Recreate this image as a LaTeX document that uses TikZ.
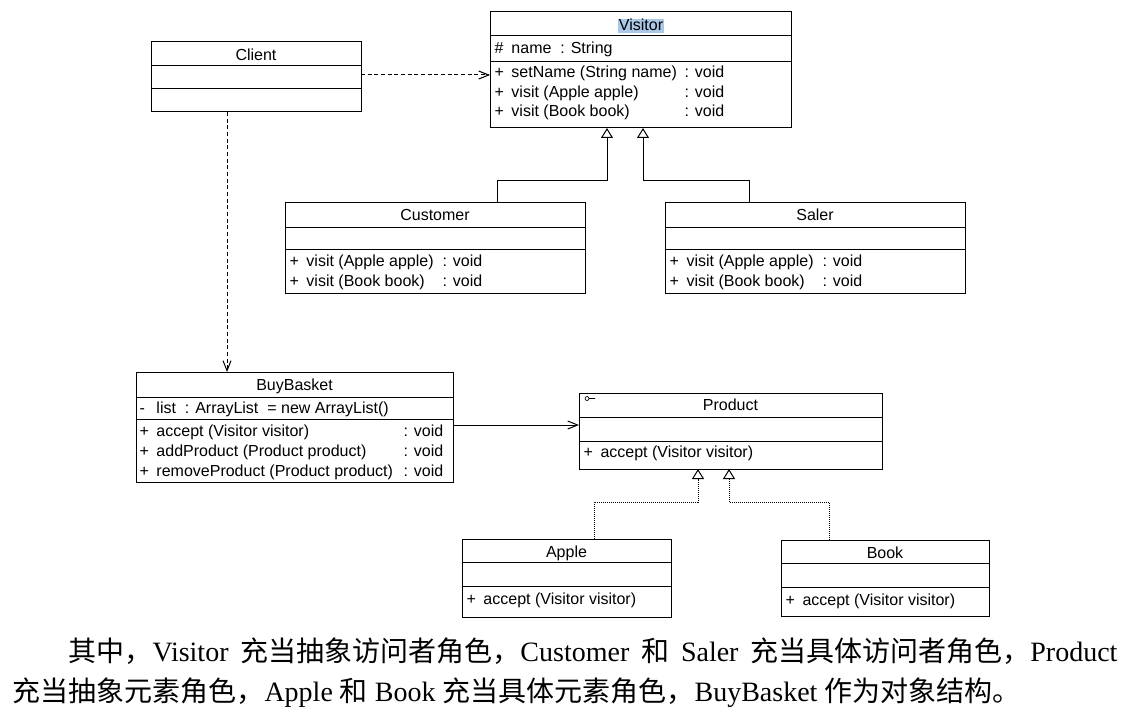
\documentclass[tikz,border=0pt]{standalone}
\usepackage{fontspec}
\setmainfont{Liberation Sans}
\newfontfamily\capfont{Liberation Serif}
\newfontfamily\cjk{Noto Sans CJK SC}
\usetikzlibrary{arrows.meta}

\definecolor{selblue}{RGB}{170,200,232}
\newcommand{\px}{0.75pt}
\newcommand{\vis}[1]{\makebox[12.75pt][l]{#1}}

\begin{document}
\begin{tikzpicture}[x=0.75pt,y=-0.75pt,line width=0.75pt,
  font=\fontsize{12}{14}\selectfont,
  cls/.style={draw,inner sep=0pt,outer sep=0pt},
  title/.style={inner sep=0pt,text height=8.6pt,text depth=2.5pt,yshift=-1.5pt},
  member/.style={inner sep=0pt,anchor=west,text height=8.6pt,text depth=2.5pt,yshift=-1.5pt},
  depend/.style={dash pattern=on 3pt off 2pt,-{Straight Barb[length=7.5pt,width=6pt]}},
  assoc/.style={-{Straight Barb[length=7.5pt,width=6pt]}},
  inherit/.style={-{Triangle[open,length=7.5pt,width=9pt,fill=white]}},
  realize/.style={dash pattern=on 0.75pt off 0.75pt,-{Triangle[open,length=7.5pt,width=9pt,fill=white]}}]
\useasboundingbox (0,0) rectangle (1127,713);

% class boxes
\node[cls,minimum width=210*\px,minimum height=70*\px] (client) at (256,77) {};
\node[cls,minimum width=301*\px,minimum height=116*\px] (visitor) at (640.5,70) {};
\node[cls,minimum width=300*\px,minimum height=91*\px] (customer) at (435,247.5) {};
\node[cls,minimum width=300*\px,minimum height=91*\px] (saler) at (815,247.5) {};
\node[cls,minimum width=317*\px,minimum height=110*\px] (basket) at (294.5,427) {};
\node[cls,minimum width=303*\px,minimum height=76*\px] (product) at (730.5,431) {};
\node[cls,minimum width=209*\px,minimum height=78*\px] (apple) at (566.5,578) {};
\node[cls,minimum width=208*\px,minimum height=76*\px] (book) at (885,578) {};

% compartments
\foreach \n/\a/\b in {client/66/89,visitor/36/62,customer/227/249,saler/227/249,
                     basket/397/419,product/417/441,apple/562/586,book/563/587}{
  \draw (\n.west |- 0,\a) -- (\n.east |- 0,\a);
  \draw (\n.west |- 0,\b) -- (\n.east |- 0,\b);
}

% Client
\node[title] (clientT) at (256,54) {Client};

% Visitor
\node[title,fill=selblue,inner xsep=1pt] (visitorT) at (641,24) {Visitor};
\node[member] (vName) at (494,47) {\vis{\#}name\ \ : String};
\node[member] (vSet) at (494,71) {\vis{+}setName (String name)};
\node[member] (vApple) at (494,91) {\vis{+}visit (Apple apple)};
\node[member] (vBook) at (494,110) {\vis{+}visit (Book book)};
\foreach \y in {71,91,110} \node[member] (vVoid\y) at (684,\y) {: void};

% Customer / Saler
\node[title] (customerT) at (435,214) {Customer};
\node[title] (salerT) at (815,214) {Saler};
\foreach \n/\x in {c/289,s/669}{
  \node[member] (\n Apple) at (\x,260) {\vis{+}visit (Apple apple)};
  \node[member] (\n Book) at (\x,280) {\vis{+}visit (Book book)};
  \node[member] (\n Void1) at (\x+153,260) {: void};
  \node[member] (\n Void2) at (\x+153,280) {: void};
}

% BuyBasket
\node[title] (basketT) at (294.5,384) {BuyBasket};
\node[member] (bList) at (139,407) {\vis{-}list\ \ : ArrayList\ \ = new ArrayList()};
\node[member] (bAccept) at (139,430) {\vis{+}accept (Visitor visitor)};
\node[member] (bAdd) at (139,450) {\vis{+}addProduct (Product product)};
\node[member] (bRemove) at (139,470) {\vis{+}removeProduct (Product product)};
\foreach \y in {430,450,470} \node[member] (bVoid\y) at (403,\y) {: void};

% Product
\node[title] (productT) at (730.5,404) {Product};
\draw[line width=0.5pt] (587,398.5) circle[radius=1.5pt] (589,398.5) -- (595,398.5);
\node[member] (pAccept) at (583,451) {\vis{+}accept (Visitor visitor)};

% Apple / Book
\node[title] (appleT) at (566.5,551) {Apple};
\node[member] (aAccept) at (466,598) {\vis{+}accept (Visitor visitor)};
\node[title] (bookT) at (885,552) {Book};
\node[member] (kAccept) at (785,599) {\vis{+}accept (Visitor visitor)};

% connectors
\draw[depend] (client.east |- 0,75) -- (visitor.west |- 0,75);
\draw[depend] (client.south -| 227,0) -- (basket.north -| 227,0);
\draw[assoc] (basket.east |- 0,425) -- (product.west |- 0,425);
\draw[inherit] (customer.north -| 497,0) |- (607,180) -- (visitor.south -| 607,0);
\draw[inherit] (saler.north -| 749,0) |- (643,180) -- (visitor.south -| 643,0);
\draw[realize] (apple.north -| 594,0) |- (698,502) -- (product.south -| 698,0);
\draw[realize] (book.north -| 829,0) |- (729,502) -- (product.south -| 729,0);

% caption
\begin{scope}[every node/.style={anchor=base west,inner sep=0pt,font=\capfont\fontsize{21}{25}\selectfont}]
\node (cap1) at (68,661) {\makebox[786.75pt][s]{{\cjk 其中，}Visitor {\cjk 充当抽象访问者角色，}Customer {\cjk 和} Saler {\cjk 充当具体访问者角色，}Product}};
\node (cap2) at (12,701) {{\cjk 充当抽象元素角色，}Apple {\cjk 和} Book {\cjk 充当具体元素角色，}BuyBasket {\cjk 作为对象结构。}};
\end{scope}
\end{tikzpicture}
\end{document}
